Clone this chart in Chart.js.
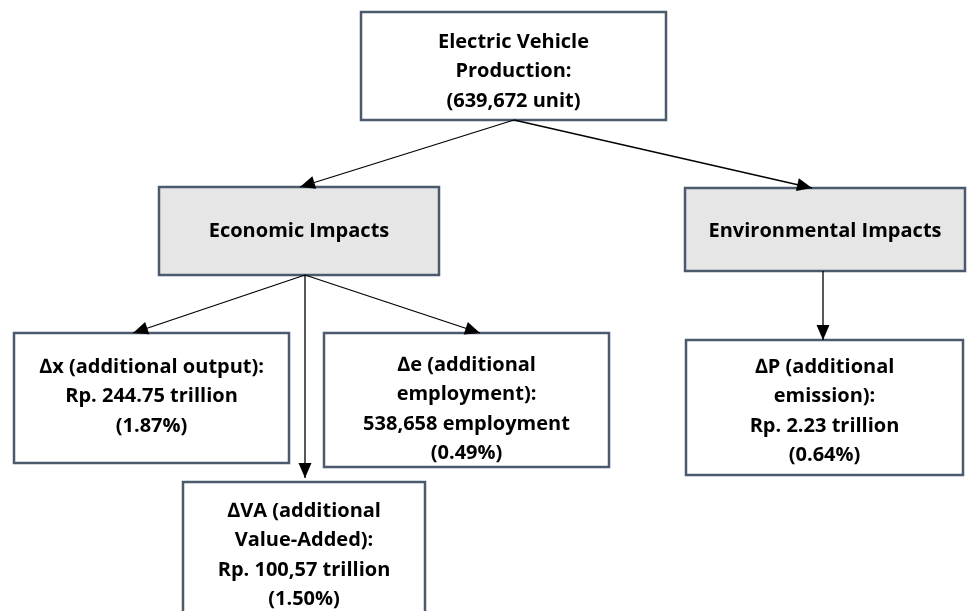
<!DOCTYPE html>
<html lang="en">
  <head>
    <meta charset="utf-8" />
    <title>Electric Vehicle Production Impacts</title>
    <script src="https://cdn.jsdelivr.net/npm/chart.js"></script>
    <style>
      html, body { margin: 0; padding: 0; background: #fff; }
      #flow { display: block; }
    </style>
  </head>
  <body>
    <canvas id="flow" width="967" height="611"></canvas>
    <script>
      // node texts
      const nodeNames = ["ev", "eco", "env", "dx", "dva", "de", "dp"];
      const nodeLines = [
        ["Electric Vehicle", "Production:", "(639,672 unit)"],
        ["Economic Impacts"],
        ["Environmental Impacts"],
        ["\u2206x (additional output):", "Rp. 244.75 trillion", "(1.87%)"],
        ["\u2206VA (additional", "Value-Added):", "Rp. 100,57 trillion", "(1.50%)"],
        ["\u2206e (additional", "employment):", "538,658 employment", "(0.49%)"],
        ["\u2206P (additional", "emission):", "Rp. 2.23 trillion", "(0.64%)"]
      ];
      // links between nodes
      const linkFrom = ["ev", "ev", "eco", "eco", "eco", "env"];
      const linkTo   = ["eco", "env", "dx", "dva", "de", "dp"];

      // layout (canvas units): left, top, right, bottom
      const layout = {
        ev:  [361, 12, 666, 120],
        eco: [159, 187, 439, 275],
        env: [685, 188, 965, 271],
        dx:  [14, 333, 289, 463],
        dva: [183, 482, 425, 640],
        de:  [324, 333, 609, 467],
        dp:  [686, 340, 963, 475]
      };
      const shaded = ["eco", "env"];
      const textTop = { ev: 42, eco: 231, env: 231, dx: 367, dva: 511, de: 365, dp: 367 };
      // arrow anchors (start x,y  end x,y)
      const anchors = [
        [514, 120, 300, 187],
        [514, 120, 812, 188],
        [305, 275, 133, 333],
        [305, 275, 305, 478],
        [305, 275, 480, 333],
        [823, 271, 823, 340]
      ];

      const linkSets = linkFrom.map((f, i) => ({
        label: f + "-" + linkTo[i],
        data: [{ x: anchors[i][0], y: anchors[i][1] }, { x: anchors[i][2], y: anchors[i][3] }],
        showLine: true,
        borderColor: "#000",
        borderWidth: 1.3,
        pointRadius: 0
      }));

      const flowPlugin = {
        id: "flow",
        beforeDatasetsDraw(chart) {
          const { ctx, scales: { x, y } } = chart;
          ctx.save();
          nodeNames.forEach((n, i) => {
            const b = layout[n];
            const x0 = x.getPixelForValue(b[0]), y0 = y.getPixelForValue(b[1]);
            const x1 = x.getPixelForValue(b[2]), y1 = y.getPixelForValue(b[3]);
            ctx.fillStyle = shaded.includes(n) ? "#e6e6e6" : "#ffffff";
            ctx.fillRect(x0, y0, x1 - x0, y1 - y0);
            ctx.lineWidth = 2.5;
            ctx.strokeStyle = "#4b5a6c";
            ctx.strokeRect(x0, y0, x1 - x0, y1 - y0);
            ctx.fillStyle = "#000";
            ctx.font = "bold 20px 'Open Sans', sans-serif";
            ctx.textAlign = "center";
            ctx.textBaseline = "middle";
            const cx = (x0 + x1) / 2;
            nodeLines[i].forEach((t, k) => {
              ctx.fillText(t, cx, y.getPixelForValue(textTop[n] + k * 29.5));
            });
          });
          ctx.restore();
        },
        afterDatasetsDraw(chart) {
          const { ctx, scales: { x, y } } = chart;
          ctx.save();
          ctx.fillStyle = "#000";
          chart.data.datasets.forEach(ds => {
            const p0 = ds.data[0], p1 = ds.data[1];
            const ax = x.getPixelForValue(p0.x), ay = y.getPixelForValue(p0.y);
            const bx = x.getPixelForValue(p1.x), by = y.getPixelForValue(p1.y);
            const a = Math.atan2(by - ay, bx - ax);
            const len = 15, half = 6.5;
            ctx.beginPath();
            ctx.moveTo(bx, by);
            ctx.lineTo(bx - len * Math.cos(a) + half * Math.sin(a), by - len * Math.sin(a) - half * Math.cos(a));
            ctx.lineTo(bx - len * Math.cos(a) - half * Math.sin(a), by - len * Math.sin(a) + half * Math.cos(a));
            ctx.closePath();
            ctx.fill();
          });
          ctx.restore();
        }
      };

      new Chart(document.getElementById("flow"), {
        type: "scatter",
        data: { datasets: linkSets },
        options: {
          responsive: false,
          animation: false,
          layout: { padding: 0 },
          plugins: { legend: { display: false }, tooltip: { enabled: false } },
          scales: {
            x: { type: "linear", min: 0, max: 967, display: false },
            y: { type: "linear", min: 0, max: 611, reverse: true, display: false }
          }
        },
        plugins: [flowPlugin]
      });
    </script>
  </body>
</html>
